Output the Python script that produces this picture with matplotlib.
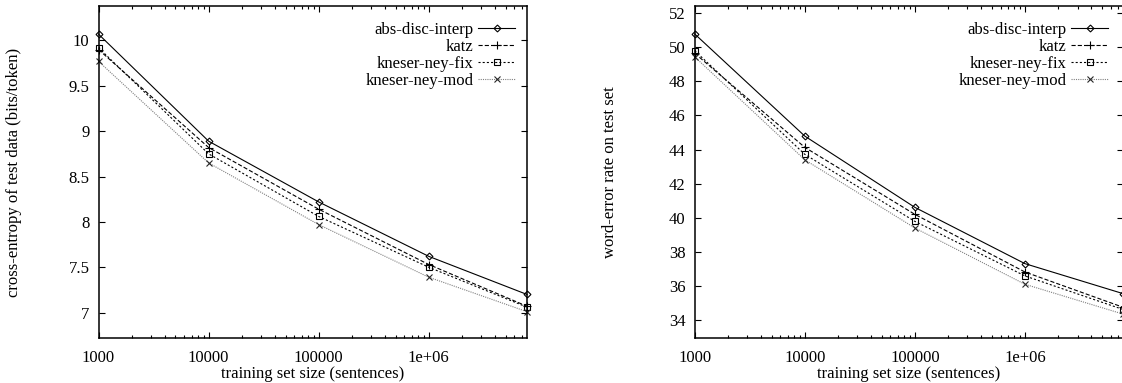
import matplotlib
matplotlib.use("Agg")
import matplotlib.pyplot as plt
from matplotlib.ticker import FixedLocator, LogLocator, NullFormatter

plt.rcParams['font.family'] = ['Liberation Serif', 'DejaVu Serif']
plt.rcParams['font.size'] = 12
plt.rcParams['lines.scale_dashes'] = False

# training set sizes (sentences)
sizes = [1000, 10000, 100000, 1000000, 7.8e6]
size_ticks = [1000, 10000, 100000, 1000000]
size_labels = ["1000", "10000", "100000", "1e+06"]

series_names = ["abs-disc-interp", "katz", "kneser-ney-fix", "kneser-ney-mod"]

# cross-entropy of test data (bits/token)
entropy_abs = [10.07, 8.89, 8.22, 7.62, 7.20]
entropy_katz = [9.90, 8.82, 8.14, 7.53, 7.07]
entropy_fix = [9.92, 8.75, 8.06, 7.50, 7.06]
entropy_mod = [9.77, 8.65, 7.97, 7.39, 7.01]
entropy_ticks = [7, 7.5, 8, 8.5, 9, 9.5, 10]
entropy_labels = ["7", "7.5", "8", "8.5", "9", "9.5", "10"]

# word-error rate on test set
wer_abs = [50.78, 44.79, 40.61, 37.31, 35.55]
wer_katz = [49.65, 44.13, 40.20, 36.82, 34.75]
wer_fix = [49.80, 43.72, 39.79, 36.59, 34.62]
wer_mod = [49.44, 43.40, 39.40, 36.10, 34.35]
wer_ticks = [34, 36, 38, 40, 42, 44, 46, 48, 50, 52]

styles = [
    dict(color='black', marker='D', ms=3.5, mfc='none', mew=0.8, ls='-'),
    dict(color='black', marker='+', ms=6, mew=0.8, dashes=(3, 1.5)),
    dict(color='black', marker='s', ms=5, mfc='none', mew=0.8, dashes=(1.5, 1.5)),
    dict(color='0.5', marker='x', ms=4.5, mec='0.15', mew=0.8, dashes=(0.8, 0.8)),
]

fig = plt.figure(figsize=(11.22, 3.83), dpi=100)
W, H = 1122.0, 383.0
ax1 = fig.add_axes([98.5 / W, (H - 338) / H, 428.5 / W, 332 / H])
ax2 = fig.add_axes([694.7 / W, (H - 338) / H, 428.5 / W, 332 / H])


def setup(ax, ylabel, yticks, ylabels, ylim, leg_x):
    ax.set_xscale('log')
    ax.set_xlim(sizes[0], sizes[-1])
    ax.set_ylim(*ylim)
    ax.xaxis.set_major_locator(FixedLocator(size_ticks))
    ax.set_xticklabels(size_labels)
    ax.xaxis.set_minor_locator(LogLocator(base=10, subs=range(2, 10)))
    ax.xaxis.set_minor_formatter(NullFormatter())
    ax.set_yticks(yticks)
    ax.set_yticklabels(ylabels)
    ax.tick_params(which='both', direction='in', top=True, right=True, width=0.8)
    ax.tick_params(which='major', length=4.5)
    ax.tick_params(which='minor', length=2.2)
    ax.tick_params(axis='y', pad=6.5)
    ax.tick_params(axis='x', pad=8.5)
    for sp in ax.spines.values():
        sp.set_linewidth(1.1)
    ax.set_xlabel("training set size (sentences)", labelpad=0)
    ax.set_ylabel(ylabel)
    ax.yaxis.set_label_coords(-0.178, 0.5)
    ax.legend(loc='upper right', bbox_to_anchor=(leg_x, 0.951), frameon=False,
              markerfirst=False, handlelength=2.2, handletextpad=0.3,
              labelspacing=0.05, borderpad=0, borderaxespad=0, numpoints=1)


for vals, name, st in zip([entropy_abs, entropy_katz, entropy_fix, entropy_mod],
                          series_names, styles):
    ax1.plot(sizes, vals, lw=0.8, label=name, clip_on=False, **st)
setup(ax1, "cross-entropy of test data (bits/token)", entropy_ticks, entropy_labels,
      (6.72, 10.38), 0.972)

for vals, name, st in zip([wer_abs, wer_katz, wer_fix, wer_mod], series_names, styles):
    ax2.plot(sizes, vals, lw=0.8, label=name, clip_on=False, **st)
setup(ax2, "word-error rate on test set", wer_ticks, [str(t) for t in wer_ticks],
      (32.95, 52.42), 0.9645)

fig.savefig("out.png", dpi=100)
